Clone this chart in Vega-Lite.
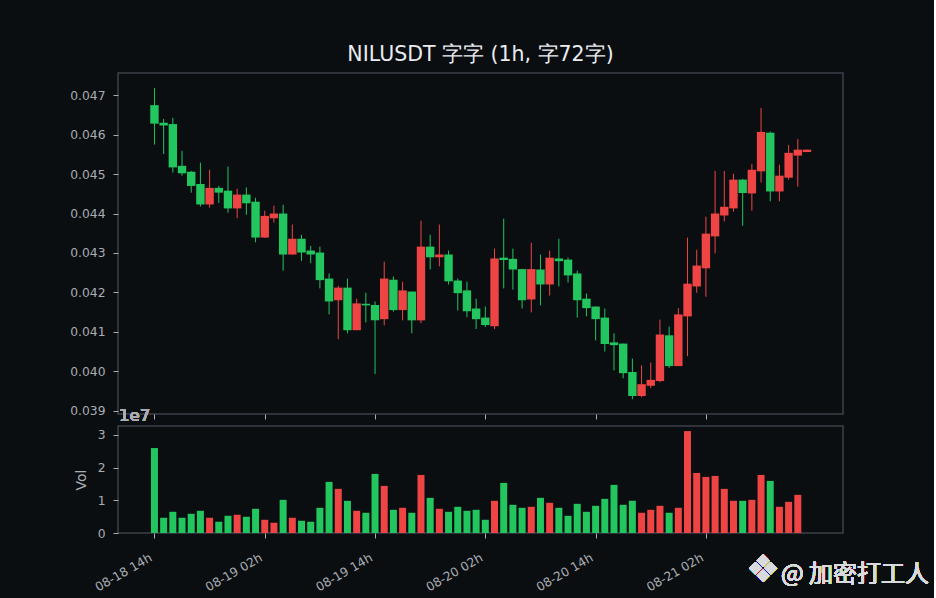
{
  "$schema": "https://vega.github.io/schema/vega-lite/v6.json",
  "background": "#0b0e11",
  "padding": {"left": 69, "top": 43, "right": 4, "bottom": 4},
  "config": {
    "font": "DejaVu Sans",
    "view": {"stroke": "#3c4049", "strokeWidth": 1.5},
    "axis": {
      "domain": false,
      "grid": false,
      "tickColor": "#a9adb3",
      "tickSize": 5,
      "labelColor": "#a9adb3",
      "labelFont": "DejaVu Sans",
      "labelFontSize": 12.3,
      "labelOverlap": false,
      "titleColor": "#a9adb3",
      "titleFont": "DejaVu Sans",
      "titleFontWeight": "normal"
    }
  },
  "data": {
    "values": [
      {"t": "2025-08-18T14:00", "open": 0.04675, "high": 0.04718, "low": 0.04575, "close": 0.04628, "vol": 2.600},
      {"t": "2025-08-18T15:00", "open": 0.04630, "high": 0.04640, "low": 0.04551, "close": 0.04623, "vol": 0.466},
      {"t": "2025-08-18T16:00", "open": 0.04627, "high": 0.04643, "low": 0.04504, "close": 0.04517, "vol": 0.649},
      {"t": "2025-08-18T17:00", "open": 0.04521, "high": 0.04559, "low": 0.04496, "close": 0.04502, "vol": 0.466},
      {"t": "2025-08-18T18:00", "open": 0.04506, "high": 0.04508, "low": 0.04453, "close": 0.04470, "vol": 0.588},
      {"t": "2025-08-18T19:00", "open": 0.04475, "high": 0.04529, "low": 0.04418, "close": 0.04423, "vol": 0.680},
      {"t": "2025-08-18T20:00", "open": 0.04423, "high": 0.04511, "low": 0.04415, "close": 0.04465, "vol": 0.466},
      {"t": "2025-08-18T21:00", "open": 0.04465, "high": 0.04470, "low": 0.04427, "close": 0.04453, "vol": 0.345},
      {"t": "2025-08-18T22:00", "open": 0.04458, "high": 0.04519, "low": 0.04402, "close": 0.04413, "vol": 0.527},
      {"t": "2025-08-18T23:00", "open": 0.04413, "high": 0.04463, "low": 0.04388, "close": 0.04448, "vol": 0.558},
      {"t": "2025-08-19T00:00", "open": 0.04448, "high": 0.04466, "low": 0.04397, "close": 0.04426, "vol": 0.497},
      {"t": "2025-08-19T01:00", "open": 0.04430, "high": 0.04440, "low": 0.04327, "close": 0.04339, "vol": 0.741},
      {"t": "2025-08-19T02:00", "open": 0.04339, "high": 0.04407, "low": 0.04338, "close": 0.04394, "vol": 0.405},
      {"t": "2025-08-19T03:00", "open": 0.04388, "high": 0.04420, "low": 0.04377, "close": 0.04400, "vol": 0.314},
      {"t": "2025-08-19T04:00", "open": 0.04400, "high": 0.04422, "low": 0.04255, "close": 0.04296, "vol": 1.015},
      {"t": "2025-08-19T05:00", "open": 0.04296, "high": 0.04372, "low": 0.04296, "close": 0.04336, "vol": 0.466},
      {"t": "2025-08-19T06:00", "open": 0.04336, "high": 0.04346, "low": 0.04280, "close": 0.04301, "vol": 0.375},
      {"t": "2025-08-19T07:00", "open": 0.04306, "high": 0.04318, "low": 0.04274, "close": 0.04296, "vol": 0.345},
      {"t": "2025-08-19T08:00", "open": 0.04301, "high": 0.04316, "low": 0.04210, "close": 0.04231, "vol": 0.771},
      {"t": "2025-08-19T09:00", "open": 0.04235, "high": 0.04248, "low": 0.04144, "close": 0.04177, "vol": 1.564},
      {"t": "2025-08-19T10:00", "open": 0.04180, "high": 0.04217, "low": 0.04081, "close": 0.04212, "vol": 1.351},
      {"t": "2025-08-19T11:00", "open": 0.04212, "high": 0.04235, "low": 0.04096, "close": 0.04104, "vol": 0.985},
      {"t": "2025-08-19T12:00", "open": 0.04104, "high": 0.04184, "low": 0.04104, "close": 0.04172, "vol": 0.680},
      {"t": "2025-08-19T13:00", "open": 0.04171, "high": 0.04199, "low": 0.04124, "close": 0.04167, "vol": 0.619},
      {"t": "2025-08-19T14:00", "open": 0.04168, "high": 0.04177, "low": 0.03993, "close": 0.04129, "vol": 1.808},
      {"t": "2025-08-19T15:00", "open": 0.04132, "high": 0.04278, "low": 0.04116, "close": 0.04235, "vol": 1.442},
      {"t": "2025-08-19T16:00", "open": 0.04232, "high": 0.04240, "low": 0.04151, "close": 0.04155, "vol": 0.710},
      {"t": "2025-08-19T17:00", "open": 0.04155, "high": 0.04227, "low": 0.04129, "close": 0.04205, "vol": 0.771},
      {"t": "2025-08-19T18:00", "open": 0.04202, "high": 0.04202, "low": 0.04096, "close": 0.04129, "vol": 0.619},
      {"t": "2025-08-19T19:00", "open": 0.04129, "high": 0.04382, "low": 0.04122, "close": 0.04316, "vol": 1.777},
      {"t": "2025-08-19T20:00", "open": 0.04316, "high": 0.04346, "low": 0.04258, "close": 0.04289, "vol": 1.076},
      {"t": "2025-08-19T21:00", "open": 0.04289, "high": 0.04372, "low": 0.04266, "close": 0.04296, "vol": 0.741},
      {"t": "2025-08-19T22:00", "open": 0.04296, "high": 0.04306, "low": 0.04220, "close": 0.04228, "vol": 0.649},
      {"t": "2025-08-19T23:00", "open": 0.04230, "high": 0.04235, "low": 0.04154, "close": 0.04198, "vol": 0.802},
      {"t": "2025-08-20T00:00", "open": 0.04205, "high": 0.04227, "low": 0.04137, "close": 0.04152, "vol": 0.680},
      {"t": "2025-08-20T01:00", "open": 0.04159, "high": 0.04184, "low": 0.04107, "close": 0.04132, "vol": 0.710},
      {"t": "2025-08-20T02:00", "open": 0.04136, "high": 0.04164, "low": 0.04112, "close": 0.04117, "vol": 0.405},
      {"t": "2025-08-20T03:00", "open": 0.04114, "high": 0.04311, "low": 0.04107, "close": 0.04286, "vol": 0.985},
      {"t": "2025-08-20T04:00", "open": 0.04288, "high": 0.04387, "low": 0.04210, "close": 0.04282, "vol": 1.534},
      {"t": "2025-08-20T05:00", "open": 0.04285, "high": 0.04311, "low": 0.04207, "close": 0.04258, "vol": 0.863},
      {"t": "2025-08-20T06:00", "open": 0.04259, "high": 0.04260, "low": 0.04159, "close": 0.04180, "vol": 0.771},
      {"t": "2025-08-20T07:00", "open": 0.04182, "high": 0.04326, "low": 0.04149, "close": 0.04259, "vol": 0.802},
      {"t": "2025-08-20T08:00", "open": 0.04258, "high": 0.04296, "low": 0.04167, "close": 0.04220, "vol": 1.076},
      {"t": "2025-08-20T09:00", "open": 0.04220, "high": 0.04306, "low": 0.04192, "close": 0.04288, "vol": 0.924},
      {"t": "2025-08-20T10:00", "open": 0.04286, "high": 0.04336, "low": 0.04215, "close": 0.04279, "vol": 0.771},
      {"t": "2025-08-20T11:00", "open": 0.04283, "high": 0.04288, "low": 0.04225, "close": 0.04243, "vol": 0.527},
      {"t": "2025-08-20T12:00", "open": 0.04248, "high": 0.04255, "low": 0.04136, "close": 0.04180, "vol": 0.893},
      {"t": "2025-08-20T13:00", "open": 0.04184, "high": 0.04197, "low": 0.04139, "close": 0.04160, "vol": 0.649},
      {"t": "2025-08-20T14:00", "open": 0.04164, "high": 0.04164, "low": 0.04078, "close": 0.04132, "vol": 0.832},
      {"t": "2025-08-20T15:00", "open": 0.04136, "high": 0.04159, "low": 0.04050, "close": 0.04069, "vol": 1.046},
      {"t": "2025-08-20T16:00", "open": 0.04073, "high": 0.04096, "low": 0.04002, "close": 0.04066, "vol": 1.473},
      {"t": "2025-08-20T17:00", "open": 0.04070, "high": 0.04070, "low": 0.03982, "close": 0.03995, "vol": 0.863},
      {"t": "2025-08-20T18:00", "open": 0.03998, "high": 0.04032, "low": 0.03929, "close": 0.03937, "vol": 0.985},
      {"t": "2025-08-20T19:00", "open": 0.03937, "high": 0.04015, "low": 0.03934, "close": 0.03967, "vol": 0.619},
      {"t": "2025-08-20T20:00", "open": 0.03963, "high": 0.04022, "low": 0.03957, "close": 0.03978, "vol": 0.710},
      {"t": "2025-08-20T21:00", "open": 0.03975, "high": 0.04131, "low": 0.03972, "close": 0.04093, "vol": 0.832},
      {"t": "2025-08-20T22:00", "open": 0.04091, "high": 0.04113, "low": 0.04008, "close": 0.04013, "vol": 0.619},
      {"t": "2025-08-20T23:00", "open": 0.04013, "high": 0.04160, "low": 0.04013, "close": 0.04144, "vol": 0.771},
      {"t": "2025-08-21T00:00", "open": 0.04139, "high": 0.04339, "low": 0.04038, "close": 0.04222, "vol": 3.119},
      {"t": "2025-08-21T01:00", "open": 0.04215, "high": 0.04308, "low": 0.04199, "close": 0.04268, "vol": 1.838},
      {"t": "2025-08-21T02:00", "open": 0.04261, "high": 0.04392, "low": 0.04189, "close": 0.04349, "vol": 1.716},
      {"t": "2025-08-21T03:00", "open": 0.04342, "high": 0.04508, "low": 0.04299, "close": 0.04400, "vol": 1.747},
      {"t": "2025-08-21T04:00", "open": 0.04395, "high": 0.04508, "low": 0.04380, "close": 0.04417, "vol": 1.351},
      {"t": "2025-08-21T05:00", "open": 0.04413, "high": 0.04501, "low": 0.04405, "close": 0.04486, "vol": 0.985},
      {"t": "2025-08-21T06:00", "open": 0.04486, "high": 0.04488, "low": 0.04369, "close": 0.04452, "vol": 0.985},
      {"t": "2025-08-21T07:00", "open": 0.04451, "high": 0.04526, "low": 0.04407, "close": 0.04511, "vol": 1.015},
      {"t": "2025-08-21T08:00", "open": 0.04507, "high": 0.04668, "low": 0.04479, "close": 0.04607, "vol": 1.777},
      {"t": "2025-08-21T09:00", "open": 0.04605, "high": 0.04608, "low": 0.04431, "close": 0.04456, "vol": 1.595},
      {"t": "2025-08-21T10:00", "open": 0.04456, "high": 0.04524, "low": 0.04431, "close": 0.04496, "vol": 0.802},
      {"t": "2025-08-21T11:00", "open": 0.04491, "high": 0.04574, "low": 0.04486, "close": 0.04554, "vol": 0.954},
      {"t": "2025-08-21T12:00", "open": 0.04547, "high": 0.04589, "low": 0.04468, "close": 0.04562, "vol": 1.168},
      {"t": "2025-08-21T13:00", "open": 0.04556, "high": 0.04562, "low": 0.04556, "close": 0.04562, "vol": 0}
    ]
  },
  "bounds": "flush",
  "spacing": 12,
  "vconcat": [
    {
      "width": 725,
      "height": 341,
      "title": {
        "text": "NILUSDT 字字 (1h, 字72字)",
        "color": "#eaecef",
        "font": "DejaVu Sans",
        "fontSize": 20.5,
        "fontWeight": "normal",
        "anchor": "middle",
        "frame": "group",
        "offset": 8
      },
      "encoding": {
        "x": {
          "field": "t",
          "type": "temporal",
          "scale": {
            "padding": 0,
            "domain": [
              {"year": 2025, "month": 8, "date": 18, "hours": 10, "minutes": 2},
              {"year": 2025, "month": 8, "date": 21, "hours": 16, "minutes": 55}
            ]
          },
          "axis": {
            "title": null,
            "labels": false,
            "values": [
              {"year": 2025, "month": 8, "date": 18, "hours": 14},
              {"year": 2025, "month": 8, "date": 19, "hours": 2},
              {"year": 2025, "month": 8, "date": 19, "hours": 14},
              {"year": 2025, "month": 8, "date": 20, "hours": 2},
              {"year": 2025, "month": 8, "date": 20, "hours": 14},
              {"year": 2025, "month": 8, "date": 21, "hours": 2}
            ]
          }
        },
        "color": {
          "condition": {"test": "datum.close >= datum.open", "value": "#ef4444"},
          "value": "#22c55e"
        }
      },
      "layer": [
        {
          "mark": {"type": "rule", "strokeWidth": 1},
          "encoding": {
            "y": {
              "field": "low",
              "type": "quantitative",
              "scale": {"domain": [0.038914, 0.047565], "nice": false, "zero": false},
              "axis": {
                "title": null,
                "format": ".3f",
                "labelPadding": 8,
                "values": [0.039, 0.040, 0.041, 0.042, 0.043, 0.044, 0.045, 0.046, 0.047]
              }
            },
            "y2": {"field": "high"}
          }
        },
        {
          "mark": {"type": "bar", "size": 8.4},
          "encoding": {
            "y": {"field": "open", "type": "quantitative"},
            "y2": {"field": "close"}
          }
        }
      ]
    },
    {
      "width": 725,
      "height": 107,
      "encoding": {
        "x": {
          "field": "t",
          "type": "temporal",
          "scale": {
            "padding": 0,
            "domain": [
              {"year": 2025, "month": 8, "date": 18, "hours": 10, "minutes": 2},
              {"year": 2025, "month": 8, "date": 21, "hours": 16, "minutes": 55}
            ]
          },
          "axis": {
            "title": null,
            "format": "%m-%d %Hh",
            "labelAngle": -30,
            "labelAlign": "right",
            "labelBaseline": "top",
            "labelPadding": 13,
            "labelOffset": -7,
            "values": [
              {"year": 2025, "month": 8, "date": 18, "hours": 14},
              {"year": 2025, "month": 8, "date": 19, "hours": 2},
              {"year": 2025, "month": 8, "date": 19, "hours": 14},
              {"year": 2025, "month": 8, "date": 20, "hours": 2},
              {"year": 2025, "month": 8, "date": 20, "hours": 14},
              {"year": 2025, "month": 8, "date": 21, "hours": 2}
            ]
          }
        }
      },
      "layer": [
        {
          "mark": {"type": "bar", "size": 7},
          "encoding": {
            "y": {
              "field": "vol",
              "type": "quantitative",
              "scale": {"domain": [0, 3.275], "nice": false},
              "axis": {"title": "Vol", "titleFontSize": 14, "titlePadding": 9, "labelPadding": 8, "values": [0, 1, 2, 3]}
            },
            "color": {
              "condition": {"test": "datum.close >= datum.open", "value": "#ef4444"},
              "value": "#22c55e"
            }
          }
        },
        {
          "mark": {
            "type": "text",
            "text": "1e7",
            "align": "left",
            "baseline": "alphabetic",
            "dx": 1,
            "dy": -5,
            "fontSize": 16.5,
            "color": "#a9adb3"
          },
          "encoding": {
            "x": {"datum": {"year": 2025, "month": 8, "date": 18, "hours": 10, "minutes": 2}, "type": "temporal"},
            "y": {
              "datum": 3.275,
              "axis": {"title": "Vol", "titleFontSize": 14, "titlePadding": 9, "labelPadding": 8, "values": [0, 1, 2, 3]}
            }
          }
        },
        {
          "mark": {
            "type": "text",
            "text": "❖",
            "align": "right",
            "baseline": "middle",
            "dx": -63,
            "dy": 38,
            "fontSize": 38,
            "font": "DejaVu Sans",
            "color": "#d8dadd"
          },
          "encoding": {
            "x": {"datum": {"year": 2025, "month": 8, "date": 21, "hours": 16, "minutes": 55}, "type": "temporal"},
            "y": {
              "datum": 0,
              "axis": {"title": "Vol", "titleFontSize": 14, "titlePadding": 9, "labelPadding": 8, "values": [0, 1, 2, 3]}
            }
          }
        },
        {
          "mark": {
            "type": "text",
            "text": "@ 加密打工人",
            "align": "right",
            "baseline": "alphabetic",
            "dx": 86,
            "dy": 49,
            "fontSize": 24,
            "font": "Noto Sans CJK SC",
            "color": "#d8dadd"
          },
          "encoding": {
            "x": {"datum": {"year": 2025, "month": 8, "date": 21, "hours": 16, "minutes": 55}, "type": "temporal"},
            "y": {
              "datum": 0,
              "axis": {"title": "Vol", "titleFontSize": 14, "titlePadding": 9, "labelPadding": 8, "values": [0, 1, 2, 3]}
            }
          }
        }
      ]
    }
  ]
}
